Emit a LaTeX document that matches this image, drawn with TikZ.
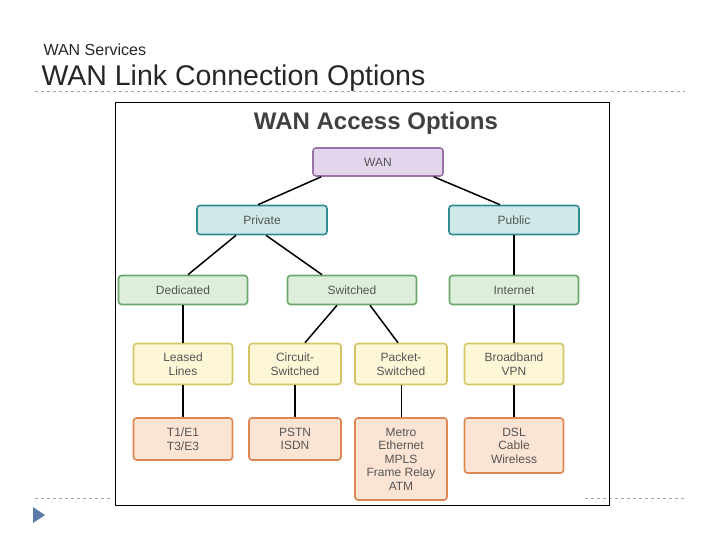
\documentclass[tikz,border=0pt]{standalone}
\usepackage{fontspec}
\setmainfont{Liberation Sans}
\usetikzlibrary{calc}
\definecolor{txt}{HTML}{555555}
\definecolor{wanF}{HTML}{E3D5EB}\definecolor{wanD}{HTML}{9A72A8}
\definecolor{tealF}{HTML}{CFE9E9}\definecolor{tealD}{HTML}{2F8F90}
\definecolor{grnF}{HTML}{DDEFDB}\definecolor{grnD}{HTML}{6CA869}
\definecolor{ylwF}{HTML}{FDF7D8}\definecolor{ylwD}{HTML}{D6C566}
\definecolor{orgF}{HTML}{FCE4D4}\definecolor{orgD}{HTML}{E08651}
\definecolor{bullet}{HTML}{5B7BA8}
\tikzset{
  box/.style={draw, line width=1.6pt, rounded corners=3pt, align=center,
    text=txt, font=\fontsize{12}{13.5}\selectfont, inner sep=0pt},
  wan/.style={box, fill=wanF, draw=wanD, minimum width=130pt, minimum height=28pt},
  lvl1/.style={box, fill=tealF, draw=tealD, minimum width=130pt, minimum height=29pt},
  lvl2/.style={box, fill=grnF, draw=grnD, minimum width=129pt, minimum height=29pt},
  lvl3/.style={box, fill=ylwF, draw=ylwD, minimum width=99pt, minimum height=41pt},
  lvl4/.style={box, fill=orgF, draw=orgD, minimum width=99pt},
  narrow/.style={minimum width=92pt},
  link/.style={line width=1.5pt, black},
  rule/.style={gray!70, dashed, line width=0.6pt}
}
\begin{document}
\begin{tikzpicture}[x=1pt,y=-1pt]
\useasboundingbox (0,0) rectangle (720,540);
% slide header
\node[anchor=west, font=\fontsize{16}{18}\selectfont, text=black!85] (sub) at (40,50) {WAN Services};
\node[anchor=west, font=\fontsize{28.5}{31}\selectfont, text=black!85] (head) at (38,78) {WAN Link Connection Options};
\draw[rule] (35,91) -- (685,91);
\draw[rule] (35,498) -- (110,498);
\draw[rule] (585,498) -- (685,498);
\fill[bullet] (33,507) -- (45,515) -- (33,523) -- cycle;
% figure frame
\draw[line width=1pt] (115,103) rectangle (609,505);
\node[font=\bfseries\fontsize{24}{26}\selectfont, text=black!75] (title) at (376,123) {WAN Access Options};

\node[wan] (wan) at (378,162) {WAN};
\node[lvl1] (priv) at (262,220) {Private};
\node[lvl1] (pub) at (514,220) {Public};
\node[lvl2] (ded) at (183,290) {Dedicated};
\node[lvl2] (sw) at (352,290) {Switched};
\node[lvl2] (inet) at (514,290) {Internet};
\node[lvl3] (leased) at (183,364) {Leased\\Lines};
\node[lvl3, narrow] (circ) at (295,364) {Circuit-\\Switched};
\node[lvl3, narrow] (pack) at (401,364) {Packet-\\Switched};
\node[lvl3] (bb) at (514,364) {Broadband\\VPN};
\node[lvl4, minimum height=42pt] (tone) at (183,439) {T1/E1\\T3/E3};
\node[lvl4, narrow, minimum height=42pt] (pstn) at (295,439) {PSTN\\ISDN};
\node[lvl4, narrow, minimum height=82pt] (metro) at (401,459) {Metro\\Ethernet\\MPLS\\Frame Relay\\ATM};
\node[lvl4, minimum height=55pt] (dsl) at (514,445.5) {DSL\\Cable\\Wireless};

\draw[link] ($(wan.south west)+(9,0)$) -- ($(priv.north)+(-4,0)$);
\draw[link] ($(wan.south east)+(-10,0)$) -- ($(pub.north)+(-14,0)$);
\draw[link] ($(priv.south)+(-26,0)$) -- ($(ded.north)+(5,0)$);
\draw[link] ($(priv.south)+(4,0)$) -- ($(sw.north)+(-30,0)$);
\draw[link] (pub) -- (inet);
\draw[link] (ded) -- (leased);
\draw[link] ($(sw.south)+(-15,0)$) -- ($(circ.north)+(10,0)$);
\draw[link] ($(sw.south)+(18,0)$) -- ($(pack.north)+(-3,0)$);
\draw[link] (inet) -- (bb);
\draw[link] (leased) -- (tone);
\draw[link] (circ) -- (pstn);
\draw[link, line width=1pt] (pack) -- (metro);
\draw[link] (bb) -- (dsl);
\end{tikzpicture}
\end{document}
